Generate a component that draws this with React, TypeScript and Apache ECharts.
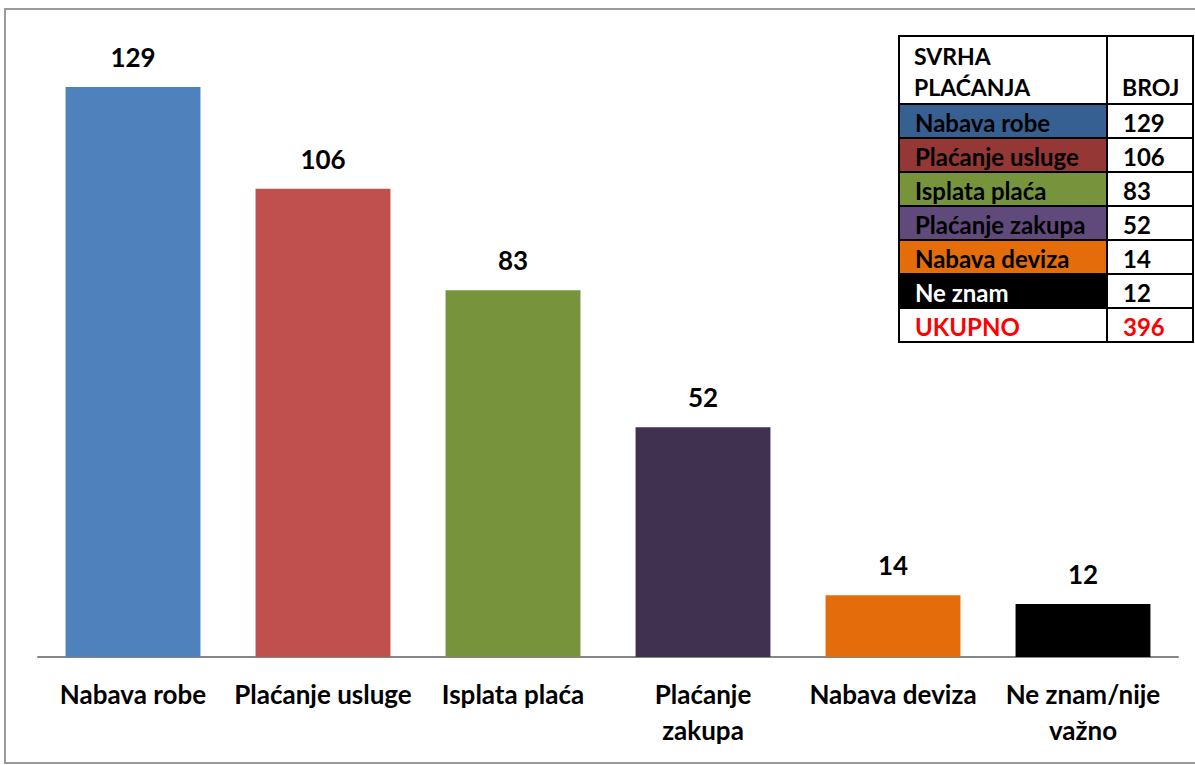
import React, { useEffect, useRef } from "react";
import * as echarts from "echarts";

const categories = ["Nabava robe", "Plaćanje usluge", "Isplata plaća", "Plaćanje\nzakupa", "Nabava deviza", "Ne znam/nije\nvažno"];
const values = [129, 106, 83, 52, 14, 12];
const barColors = ["#4F81BD", "#C0504D", "#77933C", "#403151", "#E46C0A", "#000000"];

const tableHeader = ["SVRHA\nPLAĆANJA", "BROJ"];
const tableNames = ["Nabava robe", "Plaćanje usluge", "Isplata plaća", "Plaćanje zakupa", "Nabava deviza", "Ne znam"];
const tableValues = [129, 106, 83, 52, 14, 12];
const tableColors = ["#376092", "#953735", "#77933C", "#604A7B", "#E46C0A", "#000000"];
const tableTextColors = ["#000", "#000", "#000", "#000", "#000", "#fff"];
const totalLabel = "UKUPNO";
const totalValue = 396;

const FONT = "Lato, 'Open Sans', sans-serif";

export default function App() {
  const ref = useRef<HTMLDivElement>(null);
  useEffect(() => {
    if (!ref.current) return;
    const chart = echarts.init(ref.current, null, { renderer: "svg" });

    const tx = 899, tw1 = 208, tw2 = 86;
    const headerTop = 36, headerH = 68, rowH = 34;
    const g: any[] = [];
    // frame
    g.push({ type: "rect", shape: { x: 5, y: 9, width: 1200, height: 754 }, style: { fill: "none", stroke: "#9a9a9a", lineWidth: 2 }, silent: true });
    // header
    g.push({ type: "rect", shape: { x: tx, y: headerTop, width: tw1, height: headerH }, style: { fill: "#fff", stroke: "#000", lineWidth: 2 } });
    g.push({ type: "rect", shape: { x: tx + tw1, y: headerTop, width: tw2, height: headerH }, style: { fill: "#fff", stroke: "#000", lineWidth: 2 } });
    g.push({ type: "text", x: tx + 15, y: 56, style: { text: "SVRHA", font: `bold 23px ${FONT}`, fill: "#000", textVerticalAlign: "middle" } });
    g.push({ type: "text", x: tx + 15, y: 87, style: { text: "PLAĆANJA", font: `bold 23px ${FONT}`, fill: "#000", textVerticalAlign: "middle" } });
    g.push({ type: "text", x: tx + tw1 + 15, y: 87, style: { text: tableHeader[1], font: `bold 23px ${FONT}`, fill: "#000", textVerticalAlign: "middle" } });
    const rows = tableNames.map((n, i) => ({ n, v: String(tableValues[i]), bg: tableColors[i], fc: tableTextColors[i], vc: "#000" }));
    rows.push({ n: totalLabel, v: String(totalValue), bg: "#fff", fc: "#FF0000", vc: "#FF0000" });
    rows.forEach((r, i) => {
      const y = headerTop + headerH + i * rowH;
      g.push({ type: "rect", shape: { x: tx, y, width: tw1, height: rowH }, style: { fill: r.bg, stroke: "#000", lineWidth: 2 } });
      g.push({ type: "rect", shape: { x: tx + tw1, y, width: tw2, height: rowH }, style: { fill: "#fff", stroke: "#000", lineWidth: 2 } });
      g.push({ type: "text", x: tx + 16, y: y + rowH / 2 + 1, style: { text: r.n, font: `bold 24px ${FONT}`, fill: r.fc, textVerticalAlign: "middle" } });
      g.push({ type: "text", x: tx + tw1 + 16, y: y + rowH / 2 + 1, style: { text: r.v, font: `bold 24px ${FONT}`, fill: r.vc, textVerticalAlign: "middle" } });
    });

    chart.setOption({
      animation: false,
      backgroundColor: "#fff",
      grid: { left: 38, right: 17, top: 38.4, bottom: 108 },
      xAxis: {
        type: "category",
        data: categories,
        axisLine: { lineStyle: { color: "#868686", width: 2 } },
        axisTick: { show: false },
        axisLabel: {
          interval: 0,
          color: "#000",
          fontFamily: FONT,
          fontWeight: "bold",
          fontSize: 26,
          lineHeight: 36,
          margin: 19,
          verticalAlign: "top",
        },
      },
      yAxis: { type: "value", min: 0, max: 140, show: false, splitLine: { show: false } },
      series: [
        {
          type: "bar",
          barWidth: "71%",
          data: values.map((v, i) => ({ value: v, itemStyle: { color: barColors[i] } })),
          label: {
            show: true,
            position: "top",
            distance: 17,
            color: "#000",
            fontFamily: FONT,
            fontWeight: "bold",
            fontSize: 26,
          },
        },
      ],
      graphic: g,
    });
    return () => chart.dispose();
  }, []);
  return <div ref={ref} style={{ position: "fixed", left: 0, top: 0, width: 1195, height: 765 }} />;
}
